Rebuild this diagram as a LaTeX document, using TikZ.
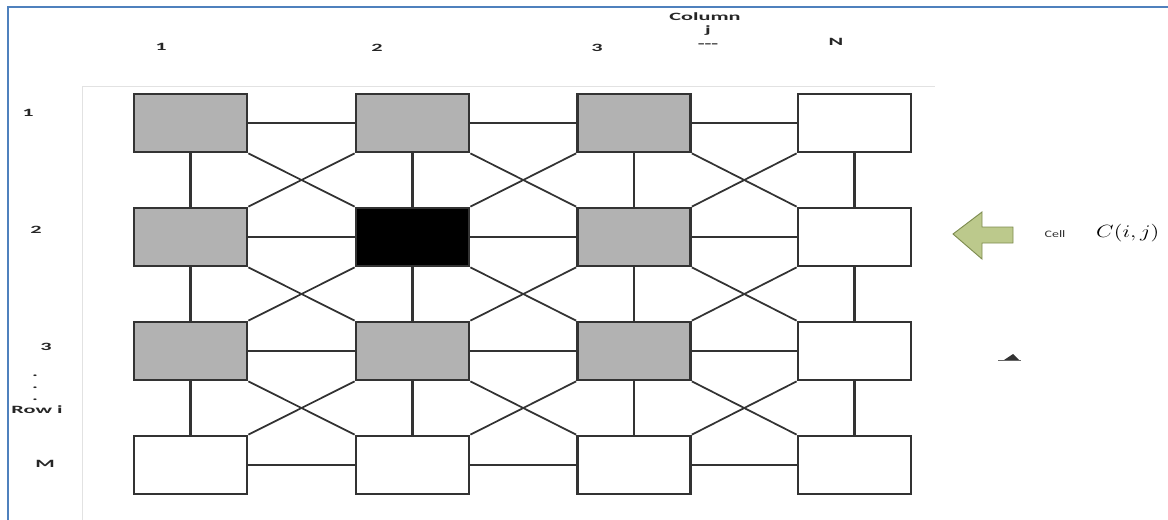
\documentclass[tikz,border=0pt]{standalone}
\usepackage{fontspec}
\usepackage{amsmath}
\newfontfamily\labelfont[FakeStretch=2.0]{Carlito}
\newfontfamily\celltextfont[FakeStretch=1.4]{Carlito}
\definecolor{framegray}{HTML}{E2E2E2}
\definecolor{borderblue}{HTML}{4F81BD}
\definecolor{cellgray}{HTML}{B2B2B2}
\definecolor{linegray}{HTML}{333333}
\definecolor{arrowgreen}{HTML}{BCC98C}
\definecolor{arrowedge}{HTML}{7E8C50}
\tikzset{
  cell_box/.style = {rectangle, draw=linegray, line width=2.3pt,
    minimum width=3.39cm, minimum height=1.74cm, inner sep=0pt},% case de la grille
  gray_cell/.style = {cell_box, fill=cellgray},% case grise
  black_cell/.style = {cell_box, fill=black},% case courante
  white_cell/.style = {cell_box, fill=white},% case vide
  link/.style = {draw=linegray, line width=1.5pt},% liaison entre cases
  vlink/.style = {draw=linegray, line width=2.2pt},% liaison verticale
  axis_label/.style = {font=\labelfont\bfseries\fontsize{9.5}{10}\selectfont,
    text=black!85, inner sep=0pt}% numeros des lignes et colonnes
}

\begin{document}
\begin{tikzpicture}[x=0.03cm, y=-0.03cm]
      \useasboundingbox (0,0) rectangle (1168,519);
      % cadres
      \draw [borderblue, line width=2.2pt] (8,7) rectangle (1220,560);
      \draw [framegray, line width=0.8pt] (82,560) -- (82,86) -- (935,86);
      % cases
      \foreach \r/\y in {1/123, 2/237, 3/351, 4/465}
        \foreach \c/\x in {1/190.5, 2/412.5, 3/634, 4/854.5}
          \coordinate (p\r\c) at (\x,\y);
      \foreach \r/\c in {1/4, 2/4, 3/4, 4/1, 4/2, 4/3, 4/4}
        \node [white_cell] (c\r\c) at (p\r\c) {};
      \foreach \r/\c in {1/1, 1/2, 1/3, 2/1, 2/3, 3/1, 3/2, 3/3}
        \node [gray_cell] (c\r\c) at (p\r\c) {};
      \node [black_cell] (c22) at (p22) {};
      % liaisons
      \foreach \r in {1,...,4}
        \foreach \c/\n in {1/2, 2/3, 3/4}
          \draw [link] (c\r\c.east) -- (c\r\n.west);
      \foreach \r/\s in {1/2, 2/3, 3/4}{
        \foreach \c in {1,...,4}
          \draw [vlink] (c\r\c.south) -- (c\s\c.north);
        \foreach \c/\n in {1/2, 2/3, 3/4}{
          \draw [link] (c\r\c.south east) -- (c\s\n.north west);
          \draw [link] (c\r\n.south west) -- (c\s\c.north east);
        }
      }
      % etiquettes des colonnes
      \node [axis_label] (col1) at (161,47) {1};
      \node [axis_label] (col2) at (377,48) {2};
      \node [axis_label] (col3) at (597,48) {3};
      \node [axis_label] (coltitle) at (705,17) {Column};
      \node [axis_label] (colj) at (708,31) {j};
      \node [axis_label] (coldots) at (708,46) {-{}-{}-};
      \node [axis_label] (colN) at (836,42) {N};
      % etiquettes des lignes
      \node [axis_label] (row1) at (28,113) {1};
      \node [axis_label] (row2) at (36,230) {2};
      \node [axis_label] (row3) at (46,347) {3};
      \foreach \y [count=\k] in {376, 388, 400}
        \node [axis_label] (rowdot\k) at (35,\y) {.};
      \node [axis_label] (rowi) at (37,410) {Row i};
      \node [axis_label] (rowM) at (45,464) {M};
      % fleche vers la case courante
      \draw [arrowedge, fill=arrowgreen, line width=0.8pt]
        (953,234) -- (982,212) -- (982,227) -- (1013,227)
        -- (1013,243) -- (982,243) -- (982,259) -- cycle;
      \node [font=\celltextfont\fontsize{8.5}{9}\selectfont, text=black!80,
        inner sep=0pt] (celltext) at (1055,234) {Cell};
      \node [anchor=west, inner sep=0pt, font=\fontsize{14}{15}\selectfont]
        (cellname) at (1096,233) {\scalebox{1.35}[1.05]{$C(i,j)$}};
      % petit triangle
      \fill [black!80] (1004,360) -- (1013,354) -- (1019,360) -- cycle;
      \draw [black!60, line width=0.5pt] (998,360) -- (1021,360);
    \end{tikzpicture}
\end{document}
